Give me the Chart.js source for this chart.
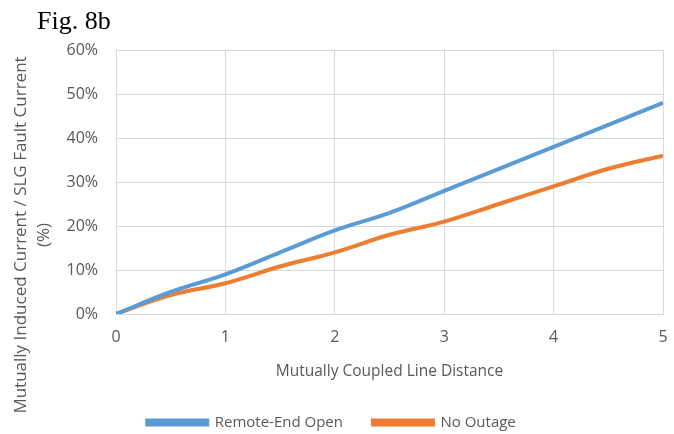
<!DOCTYPE html>
<html>
<head>
<meta charset="utf-8">
<script src="https://cdn.jsdelivr.net/npm/chart.js@4"></script>
<style>
  html, body { margin: 0; padding: 0; background: #fff; }
  #wrap { width: 674px; height: 434px; }
</style>
</head>
<body>
<div id="wrap"><canvas id="myLineChart" width="674" height="434"></canvas></div>
<script>
// values (percent)
var distance = [0, 0.5, 1, 1.5, 2, 2.5, 3, 3.5, 4, 4.5, 5];
var remoteEndOpen = [0, 5, 9, 14, 19, 23, 28, 33, 38, 43, 48];
var noOutage = [0, 4.3, 7, 10.8, 14, 18, 21, 25, 29, 33, 36];
var seriesNames = ['Remote-End Open', 'No Outage'];
var xTitle = 'Mutually Coupled Line Distance';
var yTitleLines = ['Mutually Induced Current / SLG Fault Current', '(%)'];
var figLabel = 'Fig. 8b';

var textFont = "'Open Sans', 'Liberation Sans', sans-serif";
var gray = '#595959';

function toPoints(ys) {
    var pts = [];
    for (var i = 0; i < ys.length; i++) {
        pts.push({ x: distance[i], y: ys[i] });
    }
    return pts;
}

// fig label and the two-line y title are drawn by hand,
// the y title sits lower than the plot centre in the original
var extraText = {
    id: 'extraText',
    afterDraw: function (chart) {
        var c = chart.ctx;
        c.save();
        c.fillStyle = '#000';
        c.font = "26px 'Liberation Serif', 'Times New Roman', serif";
        c.textAlign = 'left';
        c.textBaseline = 'alphabetic';
        c.fillText(figLabel, 37, 29);

        c.fillStyle = gray;
        c.font = '17px ' + textFont;
        c.textAlign = 'center';
        c.textBaseline = 'middle';
        c.translate(0, 235);
        c.rotate(-Math.PI / 2);
        c.fillText(yTitleLines[0], 0, 21);
        c.fillText(yTitleLines[1], 0, 44);
        c.restore();
    }
};

var ctx = document.getElementById('myLineChart').getContext('2d');
var chart = new Chart(ctx, {
    type: 'line',
    data: {
        datasets: [{
            label: seriesNames[0],
            data: toPoints(remoteEndOpen),
            borderColor: '#5b9bd5',
            backgroundColor: '#5b9bd5',
            borderWidth: 4,
            pointRadius: 0,
            tension: 0.4
        }, {
            label: seriesNames[1],
            data: toPoints(noOutage),
            borderColor: '#ed7d31',
            backgroundColor: '#ed7d31',
            borderWidth: 4,
            pointRadius: 0,
            tension: 0.4
        }]
    },
    options: {
        responsive: false,
        animation: false,
        layout: { padding: { left: 0, right: 11, top: 50, bottom: -6 } },
        plugins: {
            tooltip: { enabled: false },
            legend: {
                position: 'bottom',
                labels: {
                    boxWidth: 60,
                    boxHeight: 4,
                    padding: 30,
                    color: gray,
                    font: { family: textFont, size: 15 }
                }
            }
        },
        scales: {
            x: {
                type: 'linear',
                min: 0,
                max: 5,
                grid: { color: '#d9d9d9', drawTicks: false },
                border: { color: '#d9d9d9' },
                ticks: {
                    stepSize: 1,
                    padding: 14,
                    color: gray,
                    font: { family: textFont, size: 16 }
                },
                title: {
                    display: true,
                    text: xTitle,
                    color: gray,
                    font: { family: textFont, size: 15.5 },
                    padding: { top: 4, bottom: 4 }
                },
                afterFit: function (scale) {
                    scale.height = 71;
                    // tick padding would otherwise push the right edge in
                    scale.paddingRight = 0;
                }
            },
            y: {
                min: 0,
                max: 60,
                grid: { color: '#d9d9d9', drawTicks: false },
                border: { color: '#d9d9d9' },
                ticks: {
                    stepSize: 10,
                    padding: 18,
                    color: gray,
                    font: { family: textFont, size: 16 },
                    callback: function (v) { return v + '%'; }
                },
                afterFit: function (scale) { scale.width = 116; }
            }
        }
    },
    plugins: [extraText]
});
</script>
</body>
</html>
